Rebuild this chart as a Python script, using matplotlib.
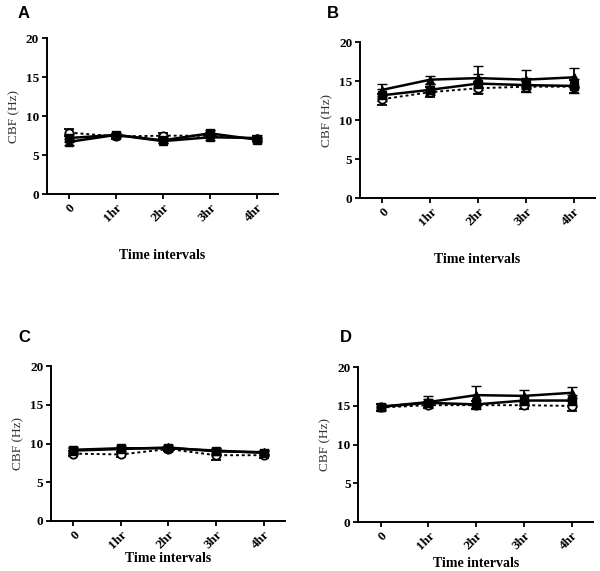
import matplotlib
matplotlib.use("Agg")
import matplotlib.pyplot as plt

times = ["0", "1hr", "2hr", "3hr", "4hr"]
x_pos = [0, 1, 2, 3, 4]

# panel A
a_sq = [7.2, 7.6, 6.9, 7.8, 7.0]
a_sq_err = [0.5, 0.3, 0.3, 0.4, 0.3]
a_tri = [6.7, 7.6, 6.8, 7.3, 7.2]
a_tri_err = [0.4, 0.3, 0.3, 0.3, 0.4]
a_circ = [7.9, 7.4, 7.5, 7.5, 7.1]
a_circ_err = [0.5, 0.3, 0.3, 0.3, 0.3]

# panel B
b_sq = [13.2, 13.9, 14.7, 14.5, 14.4]
b_sq_err = [0.8, 0.7, 1.2, 0.9, 0.9]
b_tri = [13.9, 15.2, 15.4, 15.2, 15.5]
b_tri_err = [0.8, 0.5, 1.5, 1.2, 1.2]
b_circ = [12.7, 13.6, 14.1, 14.3, 14.3]
b_circ_err = [0.7, 0.6, 0.8, 0.7, 0.8]

# panel C
c_sq = [9.2, 9.4, 9.4, 9.1, 8.8]
c_sq_err = [0.3, 0.3, 0.3, 0.3, 0.3]
c_tri = [9.1, 9.3, 9.5, 9.0, 8.9]
c_tri_err = [0.3, 0.2, 0.3, 0.3, 0.3]
c_circ = [8.7, 8.6, 9.3, 8.5, 8.5]
c_circ_err = [0.3, 0.3, 0.3, 0.6, 0.3]

# panel D
d_sq = [14.9, 15.4, 15.2, 15.7, 15.7]
d_sq_err = [0.4, 0.5, 0.6, 0.6, 0.7]
d_tri = [14.9, 15.5, 16.4, 16.3, 16.7]
d_tri_err = [0.4, 0.8, 1.2, 0.8, 0.7]
d_circ = [14.8, 15.1, 15.1, 15.1, 15.0]
d_circ_err = [0.4, 0.4, 0.5, 0.5, 0.6]

# name, axes rect, data..., letter position (px), xlabel offset (axes fraction)
panels = [
    ("A", [0.078, 0.660, 0.385, 0.273], a_sq, a_sq_err, a_tri, a_tri_err, a_circ, a_circ_err, (18, 13), -0.35),
    ("B", [0.600, 0.653, 0.392, 0.273], b_sq, b_sq_err, b_tri, b_tri_err, b_circ, b_circ_err, (327, 13), -0.35),
    ("C", [0.085, 0.0876, 0.390, 0.271], c_sq, c_sq_err, c_tri, c_tri_err, c_circ, c_circ_err, (18, 337), -0.20),
    ("D", [0.597, 0.0858, 0.392, 0.271], d_sq, d_sq_err, d_tri, d_tri_err, d_circ, d_circ_err, (340, 337), -0.225),
]

fig = plt.figure(figsize=(6, 5.71), dpi=100)
serif = "Liberation Serif"

for name, rect, sq, sq_e, tri, tri_e, ci, ci_e, lpos, xl_y in panels:
    ax = fig.add_axes(rect)
    ax.errorbar(x_pos, ci, yerr=ci_e, color="black", ls=(0, (1.5, 1.5)), lw=1.4,
                marker="o", mfc="white", mec="black", mew=1.3, ms=6, capsize=3.5, elinewidth=1.3)
    ax.errorbar(x_pos, sq, yerr=sq_e, color="black", ls="-", lw=1.8,
                marker="s", mfc="black", ms=6, capsize=3.5, elinewidth=1.3)
    ax.errorbar(x_pos, tri, yerr=tri_e, color="black", ls="-", lw=1.8,
                marker="^", mfc="black", ms=6, capsize=3.5, elinewidth=1.3)
    ax.set_xlim(-0.47, 4.45)
    ax.set_ylim(0, 20)
    ax.set_yticks([0, 5, 10, 15, 20])
    ax.set_xticks(x_pos)
    ax.set_xticklabels(times, rotation=45, ha="right", rotation_mode="anchor")
    for lab in ax.get_xticklabels() + ax.get_yticklabels():
        lab.set_fontfamily(serif)
        lab.set_fontweight("bold")
        lab.set_fontsize(9.5)
    ax.spines["top"].set_visible(False)
    ax.spines["right"].set_visible(False)
    ax.spines["left"].set_linewidth(1.4)
    ax.spines["bottom"].set_linewidth(1.4)
    ax.tick_params(width=1.3, length=3.5, pad=2)
    ax.set_ylabel("CBF (Hz)", fontfamily=serif, fontsize=9.5, color="#333333")
    ax.set_xlabel("Time intervals", fontfamily=serif, fontweight="bold", fontsize=10)
    ax.xaxis.set_label_coords(0.5, xl_y)
    fig.text(lpos[0] / 600, 1 - lpos[1] / 571, name, fontsize=12, fontweight="bold",
             family="Liberation Sans", ha="left", va="center")

fig.savefig("out.png", dpi=100)
